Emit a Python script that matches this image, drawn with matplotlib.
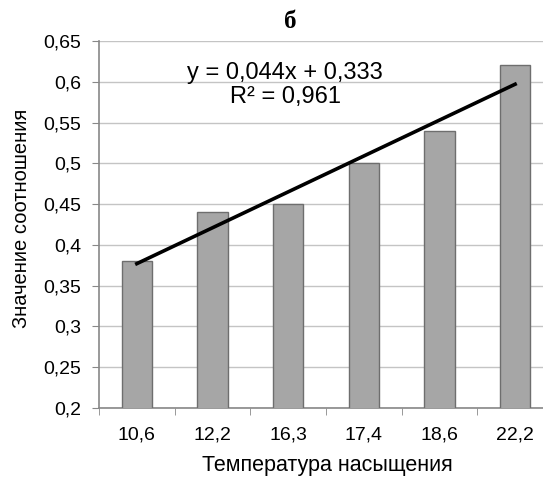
import matplotlib.pyplot as plt
import numpy as np

plt.rcParams['font.family'] = ['Liberation Sans', 'DejaVu Sans']

# data
temps = ['10,6', '12,2', '16,3', '17,4', '18,6', '22,2']
ratios = [0.38, 0.44, 0.45, 0.50, 0.54, 0.62]
slope, intercept = 0.044, 0.333
y_ticks = [0.2, 0.25, 0.3, 0.35, 0.4, 0.45, 0.5, 0.55, 0.6, 0.65]
y_labels = ['0,2', '0,25', '0,3', '0,35', '0,4', '0,45', '0,5', '0,55', '0,6', '0,65']

fig = plt.figure(figsize=(5.43, 4.78), dpi=100)
# plot area runs a little past the right edge of the picture, as in the original
ax = fig.add_axes([0.1823, 0.1464, 0.836, 0.7678])

x = np.arange(len(temps))
ax.bar(x, ratios, width=0.4, color='#a6a6a6', edgecolor='#6e6e6e', linewidth=1, zorder=3)

# linear trendline (Excel numbers categories 1..6)
xt = x + 1
ax.plot(x, slope * xt + intercept, color='black', linewidth=2.6, zorder=4)

ax.set_xlim(-0.5, len(temps) - 0.5)
ax.set_ylim(0.2, 0.65)
ax.set_yticks(y_ticks)
ax.set_yticklabels(y_labels)
ax.set_xticks(x)
ax.set_xticklabels(temps)
ax.set_xticks(np.arange(-0.5, len(temps), 1), minor=True)
ax.tick_params(axis='x', which='major', length=0, pad=13, labelsize=14)
ax.tick_params(axis='x', which='minor', length=5, color='#888888', direction='out')
ax.tick_params(axis='y', length=5, color='#888888', labelsize=14, pad=8)
ax.grid(axis='y', color='#c4c4c4', linewidth=1, zorder=0)

for side in ['top', 'right']:
    ax.spines[side].set_visible(False)
for side in ['left', 'bottom']:
    ax.spines[side].set_color('#888888')
    ax.spines[side].set_linewidth(1.2)

ax.text(0.41, 0.881, 'y = 0,044x + 0,333\nR² = 0,961', transform=ax.transAxes,
        ha='center', va='center', fontsize=17, linespacing=1.1)

fig.text(0.534, 0.956, 'б', ha='center', va='center', fontsize=18,
         fontweight='bold', family=['Liberation Serif', 'DejaVu Serif'])
fig.text(0.602, 0.027, 'Температура насыщения', ha='center', va='center', fontsize=15.5)
fig.text(0.04, 0.544, 'Значение соотношения', ha='center', va='center',
         rotation=90, fontsize=14.5)

plt.savefig('out.png', dpi=100)
